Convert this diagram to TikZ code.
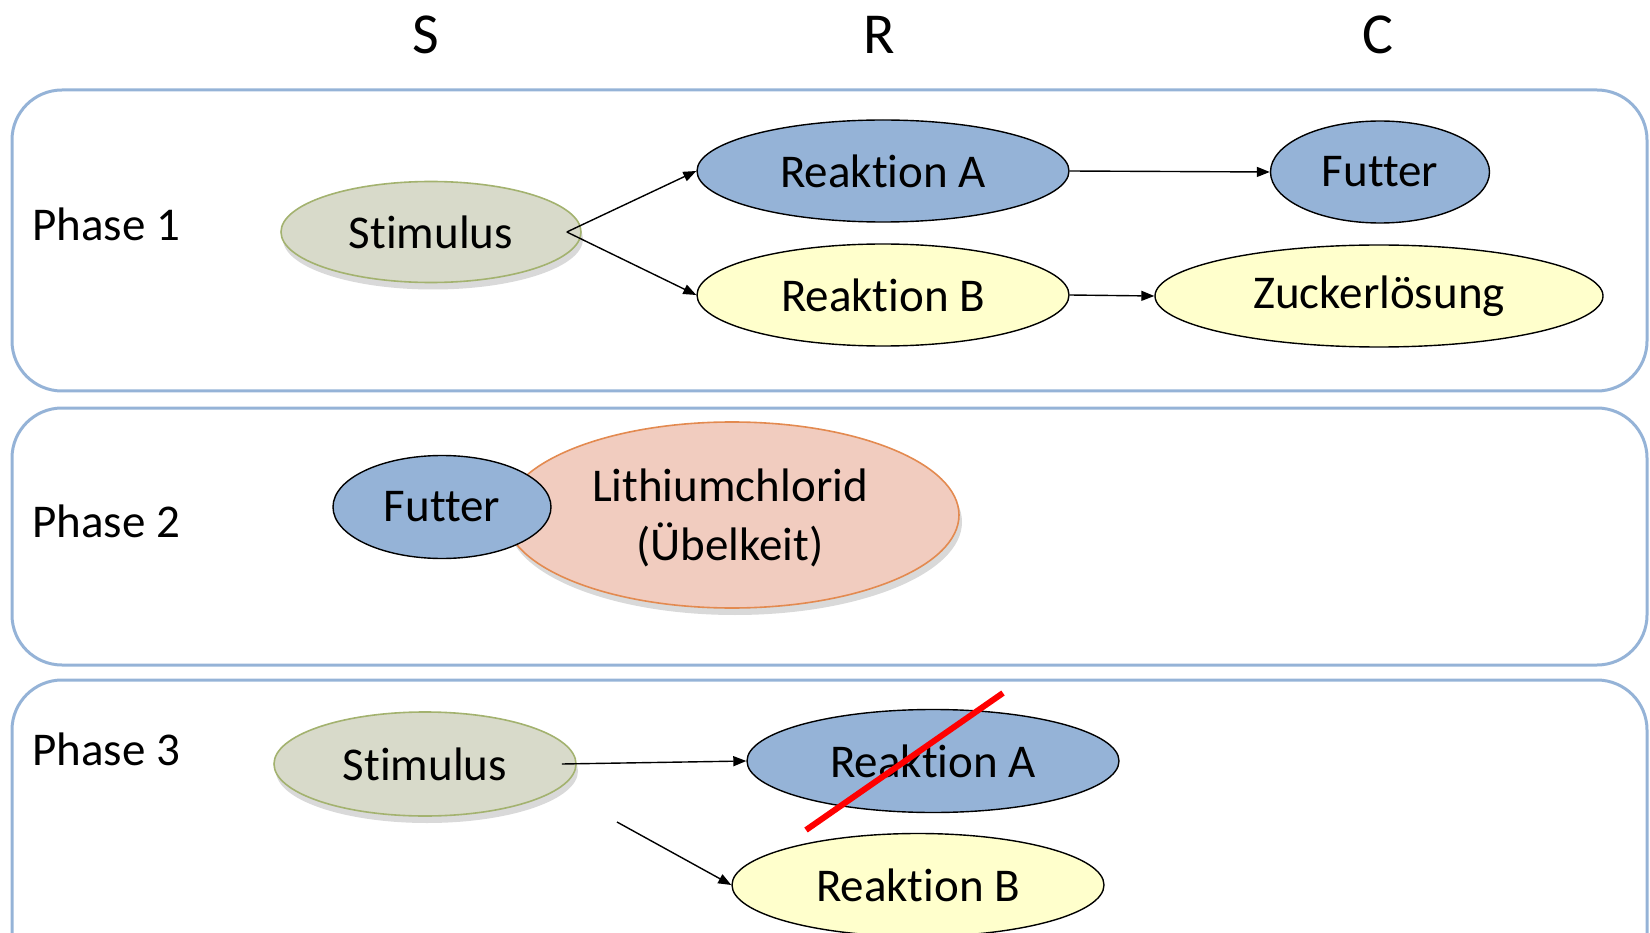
\documentclass[tikz,border=0pt]{standalone}
\usepackage{fontspec}
\setmainfont[Ligatures=NoCommon]{Carlito}
\usetikzlibrary{shapes.geometric,arrows.meta,shadows,calc}
\definecolor{boxblue}{HTML}{95B3D7}
\definecolor{stimfill}{HTML}{D8DACA}
\definecolor{stimdraw}{HTML}{A3B26F}
\definecolor{reablue}{HTML}{95B3D7}
\definecolor{reayellow}{HTML}{FFFFCC}
\definecolor{lifill}{HTML}{F1CCBF}
\definecolor{lidraw}{HTML}{E38A50}
\tikzset{
  phasebox/.style={draw=boxblue, line width=3pt, rounded corners=50pt},
  ell/.style={ellipse, draw=black, line width=1.4pt, inner sep=0pt, font=\fontsize{47}{56}\selectfont},
  stim/.style={ell, fill=stimfill, draw=stimdraw, line width=1.6pt,
     drop shadow={shadow xshift=2pt, shadow yshift=-7pt, opacity=0.25, fill=black!60}},
  blue/.style={ell, fill=reablue},
  yel/.style={ell, fill=reayellow},
  arr/.style={-{Triangle[length=13pt,width=10pt]}, line width=1.4pt, draw=black, shorten >=0pt},
  lbl/.style={anchor=west, inner sep=0pt, font=\fontsize{47}{56}\selectfont},
  hdr/.style={inner sep=0pt, font=\fontsize{58}{66}\selectfont},
}
\begin{document}
\begin{tikzpicture}[x=1pt,y=-1pt]
\useasboundingbox (0,0) rectangle (1650,933);
\clip (0,0) rectangle (1650,933);
% headers
\node[hdr] (hS) at (426,35) {S};
\node[hdr] (hR) at (879,35) {R};
\node[hdr] (hC) at (1378,35) {C};
% phase boxes
\draw[phasebox] (12,90) rectangle (1647,391);
\draw[phasebox] (12,408) rectangle (1647,665);
\draw[phasebox] (12,680) rectangle (1647,990);
% labels
\node[lbl] (p1) at (32,224) {Phase 1};
\node[lbl] (p2) at (32,521) {Phase 2};
\node[lbl] (p3) at (32,749) {Phase 3};
% phase 1
\node[stim, minimum width=300pt, minimum height=101pt] (s1) at (431,232) {\raisebox{0pt}{Stimulus}};
\node[blue, minimum width=372pt, minimum height=102pt] (ra1) at (883,171) {Reaktion A};
\node[yel, minimum width=372pt, minimum height=102pt] (rb1) at (883,295) {Reaktion B};
\node[blue, minimum width=219pt, minimum height=102pt] (f1) at (1380,172) {Futter};
\node[yel, minimum width=448pt, minimum height=102pt] (z1) at (1379,296) {Zuckerlösung};
\coordinate (s1o) at ($(s1.east)+(-15,0)$);
\draw[arr] (s1o) -- (ra1.west);
\draw[arr] (s1o) -- (rb1.west);
\draw[arr] (ra1.east) -- (f1.west);
\draw[arr] (rb1.east) -- (z1.west);
% phase 2
\node[ellipse, fill=lifill, draw=lidraw, line width=1.6pt, inner sep=0pt,
  minimum width=454pt, minimum height=186pt,
  drop shadow={shadow xshift=3pt, shadow yshift=-7pt, opacity=0.25, fill=black!60},
  label={[align=center, inner sep=0pt, yshift=-3pt, xshift=-2pt, font=\fontsize{47}{59}\selectfont]center:Lithiumchlorid\\(Übelkeit)}]
  (li) at (732,515) {};
\node[blue, minimum width=218pt, minimum height=103pt] (f2) at (442,507) {Futter};
% phase 3
\node[stim, minimum width=302pt, minimum height=104pt] (s3) at (425,764) {Stimulus};
\node[blue, minimum width=372pt, minimum height=103pt] (ra3) at (933,761) {Reaktion A};
\node[yel, minimum width=372pt, minimum height=103pt] (rb3) at (918,885) {Reaktion B};
\coordinate (s3o) at ($(s3.east)+(-15,0)$);
\draw[arr] (s3o) -- (ra3.west);
\coordinate (fr) at (617,822);
\draw[arr] (fr) -- (rb3.west);
\coordinate (x1) at (806,830);
\coordinate (x2) at (1003,693);
\draw[red, line width=6pt] (x1) -- (x2);
\end{tikzpicture}
\end{document}
